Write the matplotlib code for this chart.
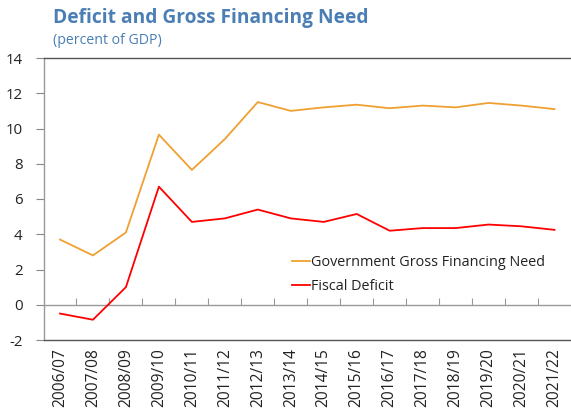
import matplotlib
matplotlib.use("Agg")
import matplotlib.pyplot as plt
import numpy as np

plt.rcParams['font.family'] = ['Open Sans', 'DejaVu Sans']

years = ["2006/07", "2007/08", "2008/09", "2009/10", "2010/11", "2011/12", "2012/13",
         "2013/14", "2014/15", "2015/16", "2016/17", "2017/18", "2018/19", "2019/20",
         "2020/21", "2021/22"]
gross_financing = [3.7, 2.8, 4.1, 9.65, 7.65, 9.4, 11.5, 11.0, 11.2, 11.35, 11.15,
                   11.3, 11.2, 11.45, 11.3, 11.1]
fiscal_deficit = [-0.5, -0.85, 1.0, 6.7, 4.7, 4.9, 5.4, 4.9, 4.7, 5.15, 4.2,
                  4.35, 4.35, 4.55, 4.45, 4.25]
yticks = [-2, 0, 2, 4, 6, 8, 10, 12, 14]

fig = plt.figure(figsize=(5.71, 4.16), dpi=100)
ax = fig.add_axes([43.5/571, 76/416, (571-43.5)/571, 282/416])

x = np.arange(len(years))
ax.plot(x, gross_financing, color="#F0A030", lw=1.3, label="Government Gross Financing Need")
ax.plot(x, fiscal_deficit, color="#FF0000", lw=1.3, label="Fiscal Deficit")

ax.set_xlim(-0.5, len(years) - 0.5)
ax.set_ylim(-2, 14)
ax.set_yticks(yticks)
ax.set_yticklabels([str(v) for v in yticks], fontsize=10.8, color="#222222")
ax.tick_params(axis='y', direction='out', length=6, width=0.8, color="#888888", pad=9)

ax.set_xticks(x)
ax.set_xticklabels(years, rotation=90, fontsize=11.2, color="#222222")
ax.tick_params(axis='x', length=0, pad=6)

for s in ['left']:
    ax.spines[s].set_color("#999999")
    ax.spines[s].set_linewidth(1.0)
for s in ['top', 'bottom']:
    ax.spines[s].set_color("#555555")
    ax.spines[s].set_linewidth(1.0)
ax.spines['right'].set_visible(False)

# zero axis with category boundary ticks
sec = ax.secondary_xaxis(2/16)
sec.set_xticks(np.arange(0.5, len(years) - 0.5, 1.0))
sec.set_xticklabels([])
sec.tick_params(direction='in', length=5, width=0.8, color="#999999")
sec.spines['bottom'].set_color("#999999")
sec.spines['bottom'].set_linewidth(1.0)

leg = ax.legend(loc='upper left', bbox_to_anchor=(0.471, 0.30), frameon=False,
                fontsize=10.4, handlelength=1.25, handletextpad=0.1, labelspacing=0.6,
                borderaxespad=0, borderpad=0)
for t in leg.get_texts():
    t.set_color("#222222")

fig.text(53/571, 1 - 18/416, "Deficit and Gross Financing Need", fontsize=13.8,
         fontweight='bold', color="#4A7EB5", va='center', ha='left')
fig.text(53/571, 1 - 41/416, "(percent of GDP)", fontsize=10.2,
         color="#4A7EB5", va='center', ha='left')

fig.savefig("out.png", dpi=100)
